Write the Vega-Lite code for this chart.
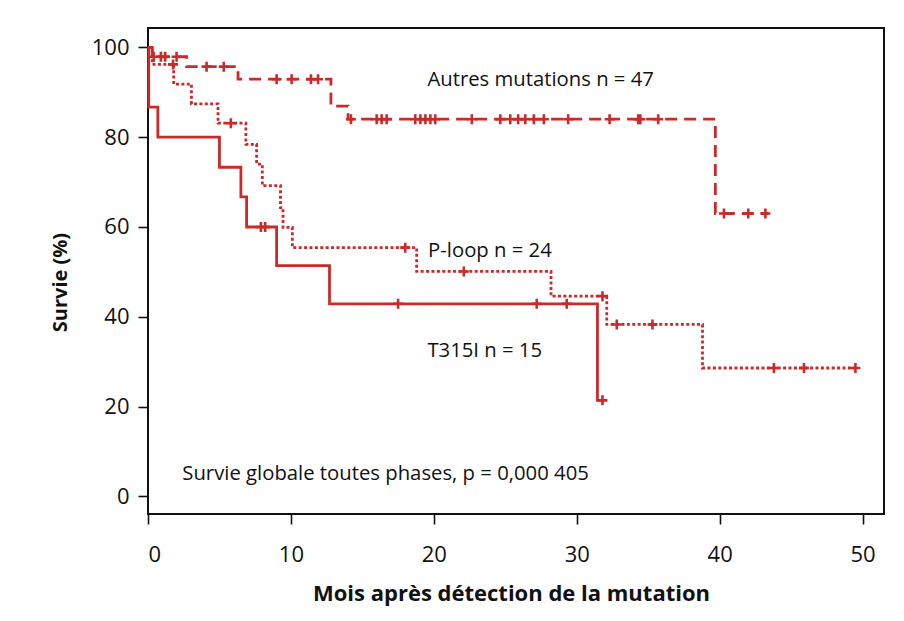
{
  "$schema": "https://vega.github.io/schema/vega-lite/v6.json",
  "width": 736,
  "height": 486,
  "autosize": {"type": "none"},
  "padding": {"left": 148, "top": 28, "right": 20, "bottom": 107},
  "background": "white",
  "config": {
    "view": {"stroke": "#111111", "strokeWidth": 2},
    "font": "Open Sans",
    "axis": {
      "labelFont": "Open Sans", "labelFontSize": 22, "labelColor": "#111111",
      "tickColor": "#111111", "tickWidth": 1.6, "tickSize": 10,
      "titleFont": "Open Sans", "titleFontWeight": "bold", "titleFontSize": 20, "titleColor": "#111111",
      "grid": false, "domain": false
    }
  },
  "datasets": {
    "curves": [
      {"groupe": "Autres", "t": 0, "s": 100},
      {"groupe": "Autres", "t": 0.3, "s": 97.9},
      {"groupe": "Autres", "t": 2.7, "s": 95.7},
      {"groupe": "Autres", "t": 6.3, "s": 92.9},
      {"groupe": "Autres", "t": 12.8, "s": 86.9},
      {"groupe": "Autres", "t": 14.0, "s": 84.0},
      {"groupe": "Autres", "t": 39.7, "s": 63.0},
      {"groupe": "Autres", "t": 43.4, "s": 63.0},
      {"groupe": "Ploop", "t": 0, "s": 100},
      {"groupe": "Ploop", "t": 0.3, "s": 96.2},
      {"groupe": "Ploop", "t": 1.8, "s": 91.8},
      {"groupe": "Ploop", "t": 3.04, "s": 87.4},
      {"groupe": "Ploop", "t": 4.9, "s": 83.1},
      {"groupe": "Ploop", "t": 6.85, "s": 78.4},
      {"groupe": "Ploop", "t": 7.6, "s": 74.0},
      {"groupe": "Ploop", "t": 8.0, "s": 69.2},
      {"groupe": "Ploop", "t": 9.27, "s": 64.3},
      {"groupe": "Ploop", "t": 9.45, "s": 59.9},
      {"groupe": "Ploop", "t": 10.1, "s": 55.4},
      {"groupe": "Ploop", "t": 18.8, "s": 50.1},
      {"groupe": "Ploop", "t": 28.2, "s": 44.6},
      {"groupe": "Ploop", "t": 32.1, "s": 38.3},
      {"groupe": "Ploop", "t": 38.8, "s": 28.6},
      {"groupe": "Ploop", "t": 49.7, "s": 28.6},
      {"groupe": "T315I", "t": 0, "s": 100},
      {"groupe": "T315I", "t": 0.05, "s": 86.7},
      {"groupe": "T315I", "t": 0.69, "s": 80.0},
      {"groupe": "T315I", "t": 5.0, "s": 73.3},
      {"groupe": "T315I", "t": 6.5, "s": 66.7},
      {"groupe": "T315I", "t": 6.9, "s": 60.0},
      {"groupe": "T315I", "t": 9.0, "s": 51.4},
      {"groupe": "T315I", "t": 12.7, "s": 42.9},
      {"groupe": "T315I", "t": 31.45, "s": 21.4},
      {"groupe": "T315I", "t": 31.8, "s": 21.4}
    ],
    "censures": [
      {"groupe": "Autres", "t": 0.4, "s": 97.9},
      {"groupe": "Autres", "t": 0.9, "s": 97.9},
      {"groupe": "Autres", "t": 1.2, "s": 97.9},
      {"groupe": "Autres", "t": 2.0, "s": 97.9},
      {"groupe": "Autres", "t": 4.1, "s": 95.7},
      {"groupe": "Autres", "t": 5.3, "s": 95.7},
      {"groupe": "Autres", "t": 9.0, "s": 92.9},
      {"groupe": "Autres", "t": 10.05, "s": 92.9},
      {"groupe": "Autres", "t": 11.4, "s": 92.9},
      {"groupe": "Autres", "t": 11.9, "s": 92.9},
      {"groupe": "Autres", "t": 14.2, "s": 84.0},
      {"groupe": "Autres", "t": 16.0, "s": 84.0},
      {"groupe": "Autres", "t": 16.35, "s": 84.0},
      {"groupe": "Autres", "t": 16.7, "s": 84.0},
      {"groupe": "Autres", "t": 18.7, "s": 84.0},
      {"groupe": "Autres", "t": 19.06, "s": 84.0},
      {"groupe": "Autres", "t": 19.41, "s": 84.0},
      {"groupe": "Autres", "t": 19.76, "s": 84.0},
      {"groupe": "Autres", "t": 20.1, "s": 84.0},
      {"groupe": "Autres", "t": 22.66, "s": 84.0},
      {"groupe": "Autres", "t": 24.65, "s": 84.0},
      {"groupe": "Autres", "t": 25.35, "s": 84.0},
      {"groupe": "Autres", "t": 25.9, "s": 84.0},
      {"groupe": "Autres", "t": 26.4, "s": 84.0},
      {"groupe": "Autres", "t": 27.0, "s": 84.0},
      {"groupe": "Autres", "t": 27.7, "s": 84.0},
      {"groupe": "Autres", "t": 29.4, "s": 84.0},
      {"groupe": "Autres", "t": 32.3, "s": 84.0},
      {"groupe": "Autres", "t": 34.3, "s": 84.0},
      {"groupe": "Autres", "t": 34.45, "s": 84.0},
      {"groupe": "Autres", "t": 35.7, "s": 84.0},
      {"groupe": "Autres", "t": 40.3, "s": 63.0},
      {"groupe": "Autres", "t": 42.0, "s": 63.0},
      {"groupe": "Autres", "t": 43.2, "s": 63.0},
      {"groupe": "Ploop", "t": 1.75, "s": 96.2},
      {"groupe": "Ploop", "t": 5.8, "s": 83.1},
      {"groupe": "Ploop", "t": 18.0, "s": 55.4},
      {"groupe": "Ploop", "t": 22.1, "s": 50.1},
      {"groupe": "Ploop", "t": 31.8, "s": 44.6},
      {"groupe": "Ploop", "t": 32.8, "s": 38.3},
      {"groupe": "Ploop", "t": 35.3, "s": 38.3},
      {"groupe": "Ploop", "t": 43.8, "s": 28.6},
      {"groupe": "Ploop", "t": 45.9, "s": 28.6},
      {"groupe": "Ploop", "t": 49.5, "s": 28.6},
      {"groupe": "T315I", "t": 7.9, "s": 60.0},
      {"groupe": "T315I", "t": 8.2, "s": 60.0},
      {"groupe": "T315I", "t": 17.5, "s": 42.9},
      {"groupe": "T315I", "t": 27.2, "s": 42.9},
      {"groupe": "T315I", "t": 29.3, "s": 42.9},
      {"groupe": "T315I", "t": 31.8, "s": 21.4}
    ],
    "etiquettes": [
      {"t": 19.55, "s": 92.7, "texte": "Autres mutations n = 47"},
      {"t": 19.6, "s": 54.6, "texte": "P-loop n = 24"},
      {"t": 19.55, "s": 32.5, "texte": "T315I n = 15"},
      {"t": 2.4, "s": 4.9, "texte": "Survie globale toutes phases, p = 0,000 405"}
    ]
  },
  "encoding": {
    "x": {
      "field": "t", "type": "quantitative",
      "scale": {"domain": [0, 51.5], "nice": false, "zero": false},
      "axis": {
        "values": [0, 10, 20, 30, 40, 50],
        "title": "Mois après détection de la mutation",
        "labelPadding": 20,
        "titleFontSize": 22,
        "titleX": 363, "titleY": 86, "titleBaseline": "alphabetic", "titleAlign": "center"
      }
    },
    "y": {
      "field": "s", "type": "quantitative",
      "scale": {"domain": [-3.9, 104.3], "nice": false, "zero": false},
      "axis": {
        "values": [0, 20, 40, 60, 80, 100],
        "title": "Survie (%)",
        "labelPadding": 9,
        "titleAngle": 270, "titleX": -82, "titleY": 254, "titleAlign": "center", "titleBaseline": "alphabetic"
      }
    }
  },
  "layer": [
    {
      "data": {"name": "curves"},
      "mark": {"type": "line", "interpolate": "step-after", "color": "#cb2a2a", "strokeWidth": 2.8, "strokeCap": "butt"},
      "encoding": {
        "detail": {"field": "groupe"},
        "strokeDash": {
          "field": "groupe", "type": "nominal",
          "scale": {"domain": ["T315I", "Autres", "Ploop"], "range": [[1, 0], [12, 7], [3, 2.4]]},
          "legend": null
        }
      }
    },
    {
      "data": {"name": "censures"},
      "mark": {"type": "point", "shape": "M-1,0L1,0M0,-1L0,1", "filled": false, "color": "#cb2a2a", "strokeWidth": 2.6, "size": 100, "opacity": 1}
    },
    {
      "data": {"name": "etiquettes"},
      "mark": {"type": "text", "align": "left", "baseline": "middle", "font": "Open Sans", "fontSize": 20.3, "color": "#111111"},
      "encoding": {"text": {"field": "texte"}}
    }
  ]
}
